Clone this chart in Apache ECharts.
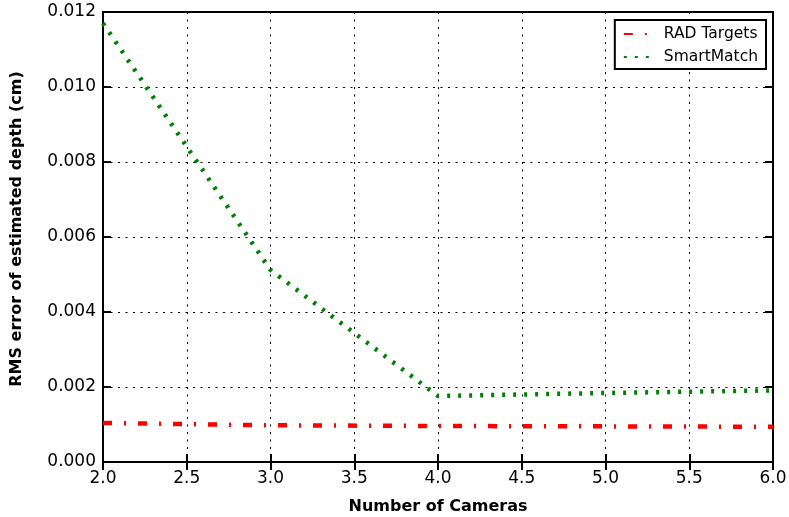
<!DOCTYPE html>
<html>
<head>
<meta charset="utf-8">
<script src="https://cdn.jsdelivr.net/npm/echarts@6/dist/echarts.min.js"></script>
<style>
html,body{margin:0;padding:0;background:#fff;}
#chart{width:789px;height:517px;}
</style>
</head>
<body>
<div id="chart"></div>
<script>
// Number of cameras used for depth estimation
const cameras = [2, 3, 4, 5, 6];
// RMS depth error (cm) per method
const radTargets = [0.00104, 0.00098, 0.00096, 0.00095, 0.00094];
const smartMatch = [0.0117, 0.00512, 0.00176, 0.00184, 0.00191];
const seriesNames = ['RAD Targets', 'SmartMatch'];

const FONT = 'DejaVu Sans';
const pairs = (xs, ys) => xs.map((x, i) => [x, ys[i]]);

const gridLine = { show: true, lineStyle: { color: '#000', width: 1, type: [2, 5.5] } };
const tickIn = { show: true, inside: true, length: 8, lineStyle: { color: '#000', width: 2 } };

const option = {
  animation: false,
  backgroundColor: '#fff',
  grid: {
    left: 103, right: 16, top: 12, bottom: 55,
    containLabel: false, outerBoundsMode: 'none',
    show: true, borderColor: '#000', borderWidth: 2
  },
  legend: {
    data: seriesNames,
    orient: 'vertical',
    right: 23,
    top: 20,
    padding: [6, 8, 4, 8],
    itemGap: 7,
    itemWidth: 26,
    itemHeight: 12,
    borderColor: '#000',
    borderWidth: 2,
    borderRadius: 0,
    backgroundColor: '#fff',
    itemStyle: { opacity: 0 },
    textStyle: { fontFamily: FONT, fontSize: 15.5, color: '#000', padding: [0, 0, 0, 9] }
  },
  xAxis: [
    {
      type: 'value', min: 2, max: 6, interval: 0.5,
      name: 'Number of Cameras', nameLocation: 'middle', nameGap: 37,
      nameTextStyle: { fontFamily: FONT, fontSize: 16, fontWeight: 'bold', color: '#000' },
      axisLine: { show: true, lineStyle: { color: '#000', width: 2 } },
      axisTick: tickIn,
      axisLabel: { fontFamily: FONT, fontSize: 17, color: '#000', margin: 8, formatter: v => v.toFixed(1) },
      splitLine: gridLine
    },
    {
      type: 'value', min: 2, max: 6, interval: 0.5, position: 'top',
      axisLine: { show: true, lineStyle: { color: '#000', width: 2 } },
      axisTick: tickIn, axisLabel: { show: false }, splitLine: { show: false }
    }
  ],
  yAxis: [
    {
      type: 'value', min: 0, max: 0.012, interval: 0.002,
      name: 'RMS error of estimated depth (cm)', nameLocation: 'middle', nameGap: 78,
      nameTextStyle: { fontFamily: FONT, fontSize: 16, fontWeight: 'bold', color: '#000', padding: [0, 0, 0, 16] },
      axisLine: { show: true, lineStyle: { color: '#000', width: 2 } },
      axisTick: tickIn,
      axisLabel: { fontFamily: FONT, fontSize: 17, color: '#000', margin: 7, formatter: v => v.toFixed(3) },
      splitLine: gridLine
    },
    {
      type: 'value', min: 0, max: 0.012, interval: 0.002, position: 'right',
      axisLine: { show: true, lineStyle: { color: '#000', width: 2 } },
      axisTick: tickIn, axisLabel: { show: false }, splitLine: { show: false }
    }
  ],
  series: [
    {
      name: seriesNames[0], type: 'line', xAxisIndex: 0, yAxisIndex: 0,
      data: pairs(cameras, radTargets),
      symbol: 'none', showSymbol: false,
      itemStyle: { color: '#ff0000' },
      lineStyle: { color: '#ff0000', width: 4.5, type: [9, 12, 2, 12], cap: 'butt' },
      z: 3
    },
    {
      name: seriesNames[1], type: 'line', xAxisIndex: 0, yAxisIndex: 0,
      data: pairs(cameras, smartMatch),
      symbol: 'none', showSymbol: false,
      itemStyle: { color: '#008000' },
      lineStyle: { color: '#008000', width: 4.5, type: [3, 8], cap: 'butt' },
      z: 3
    }
  ]
};

const chart = echarts.init(document.getElementById('chart'), null, { renderer: 'canvas' });
chart.setOption(option);
</script>
</body>
</html>
